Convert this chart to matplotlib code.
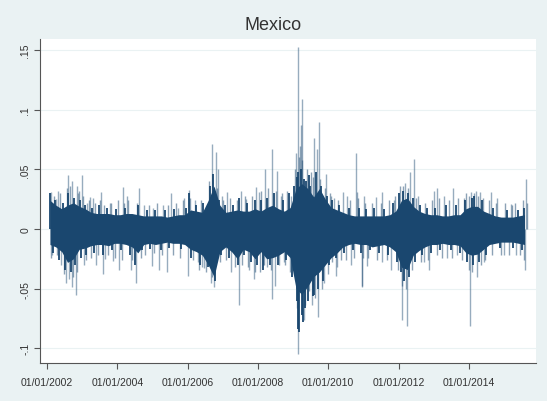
import matplotlib.pyplot as plt
import numpy as np

# dense band of daily returns, two-month periods from Jan 2002
core_hi = [.024, .020, .017, .020, .022, .019, .017, .014, .013, .013, .013, .012,
           .012, .013, .013, .012, .011, .011, .011, .011, .010, .011, .012, .012,
           .016, .015, .014, .024, .036, .020, .014, .015, .016, .015, .015, .017,
           .015, .018, .020, .017, .015, .018, .034, .038, .034, .027, .034, .025,
           .018, .016, .014, .012, .011, .011, .011, .011, .011, .011, .012, .015,
           .024, .026, .019, .015, .013, .012, .012, .011, .011, .012, .012, .017,
           .019, .019, .015, .013, .011, .010, .010, .010, .011, .012]
core_lo = [-.013, -.015, -.019, -.028, -.025, -.017, -.016, -.014, -.013, -.013, -.014, -.012,
           -.012, -.013, -.015, -.020, -.013, -.012, -.013, -.012, -.011, -.012, -.012, -.013,
           -.017, -.019, -.022, -.030, -.040, -.019, -.015, -.019, -.025, -.017, -.019, -.025,
           -.019, -.025, -.024, -.022, -.019, -.024, -.050, -.055, -.048, -.040, -.036, -.030,
           -.024, -.020, -.015, -.013, -.012, -.013, -.013, -.015, -.014, -.013, -.015, -.019,
           -.032, -.034, -.022, -.018, -.015, -.013, -.013, -.012, -.013, -.013, -.014, -.020,
           -.022, -.021, -.017, -.013, -.012, -.011, -.011, -.011, -.012, -.013]
period_mid = 2002 + (np.arange(len(core_hi)) + 0.5) / 6

# busiest days at the edge of the band
tip_years = [2002.08, 2002.18, 2002.22, 2002.35, 2002.45, 2002.52, 2002.60, 2002.68, 2002.76, 2002.80,
             2002.93, 2002.96, 2003.08, 2003.12, 2003.27, 2003.34, 2003.48, 2003.60, 2003.70, 2003.84,
             2003.95, 2004.10, 2004.22, 2004.35, 2004.50, 2004.58, 2004.70, 2004.85, 2004.93, 2005.08,
             2005.25, 2005.37, 2005.48, 2005.62, 2005.80, 2005.95, 2006.05, 2006.10, 2006.25, 2006.36,
             2006.44, 2006.58, 2006.64, 2006.72, 2006.78, 2006.90, 2006.95, 2007.05, 2007.18, 2007.30,
             2007.42, 2007.47, 2007.60, 2007.70, 2007.80, 2007.92, 2007.98, 2008.08, 2008.15, 2008.25,
             2008.35, 2008.45, 2008.58, 2008.70, 2008.80, 2008.88, 2008.97, 2009.02, 2009.10, 2009.13,
             2009.18, 2009.22, 2009.28, 2009.36, 2009.42, 2009.48, 2009.56, 2009.64, 2009.70, 2009.78,
             2009.85, 2009.96, 2010.02, 2010.12, 2010.22, 2010.32, 2010.45, 2010.58, 2010.70, 2010.88,
             2010.93, 2011.06, 2011.18, 2011.30, 2011.45, 2011.60, 2011.70, 2011.84, 2011.95, 2012.02,
             2012.06, 2012.12, 2012.16, 2012.26, 2012.30, 2012.40, 2012.48, 2012.60, 2012.68, 2012.80,
             2012.92, 2013.05, 2013.18, 2013.34, 2013.48, 2013.62, 2013.75, 2013.90, 2013.96, 2014.08,
             2014.12, 2014.16, 2014.28, 2014.36, 2014.50, 2014.70, 2014.88, 2015.08, 2015.25, 2015.40,
             2015.50, 2015.56, 2009.15, 2009.25, 2009.33, 2009.12, 2009.30, 2009.45, 2009.60]
tip_vals = [.030, -.020, .024, -.026, .022, -.034, .030, -.036, .026, -.030,
            .024, -.024, .020, -.022, .018, -.020, .020, -.022, .018, -.018,
            .017, -.018, .018, -.022, -.030, .020, -.018, .016, -.017, .016,
            -.018, .016, -.016, .017, -.017, .018, .030, -.024, .020, -.030,
            .022, -.032, .036, .046, -.044, .024, -.022, .020, -.024, .020,
            -.030, .026, -.022, .022, -.028, .024, -.030, .024, -.034, .026,
            -.030, .030, -.030, .024, -.026, .030, -.040, .036, -.060, .048,
            -.086, .050, -.078, .040, -.060, .036, -.056, .048, -.050, .036,
            -.044, .028, -.030, .024, -.024, .020, -.020, .018, -.018, .018,
            -.020, .017, -.018, .018, -.020, .017, -.022, .022, -.028, .030,
            -.036, .032, -.044, .030, -.040, .026, -.028, .020, -.022, .018,
            -.020, .018, -.018, .020, -.018, .020, -.020, .024, -.028, .026,
            -.030, .028, -.028, .024, -.022, .018, -.016, .016, -.016, .016,
            -.018, .018, -.084, -.072, -.066, .044, .042, .045, -.055]

# smaller moves around the band
hair_years = [2002.10, 2002.20, 2002.29, 2002.37, 2002.49, 2002.56, 2002.66, 2002.74, 2002.86, 2002.91,
              2003.02, 2003.10, 2003.18, 2003.25, 2003.36, 2003.45, 2003.51, 2003.63, 2003.73, 2003.82,
              2003.92, 2004.02, 2004.13, 2004.20, 2004.31, 2004.43, 2004.56, 2004.67, 2004.80, 2004.90,
              2005.05, 2005.14, 2005.28, 2005.45, 2005.58, 2005.67, 2005.77, 2005.86, 2006.08, 2006.15,
              2006.33, 2006.38, 2006.53, 2006.61, 2006.68, 2006.83, 2006.92, 2007.02, 2007.10, 2007.20,
              2007.35, 2007.40, 2007.55, 2007.62, 2007.72, 2007.84, 2007.93, 2008.05, 2008.10, 2008.18,
              2008.30, 2008.38, 2008.52, 2008.60, 2008.68, 2008.77, 2008.84, 2008.90, 2009.05, 2009.11,
              2009.17, 2009.25, 2009.33, 2009.40, 2009.46, 2009.50, 2009.58, 2009.63, 2009.77, 2009.82,
              2009.90, 2009.98, 2010.04, 2010.10, 2010.28, 2010.36, 2010.50, 2010.62, 2010.74, 2010.86,
              2010.99, 2011.04, 2011.14, 2011.24, 2011.40, 2011.50, 2011.66, 2011.74, 2011.90, 2011.99,
              2012.04, 2012.11, 2012.14, 2012.20, 2012.28, 2012.37, 2012.51, 2012.64, 2012.76, 2012.84,
              2012.96, 2013.08, 2013.14, 2013.25, 2013.44, 2013.52, 2013.70, 2013.80, 2013.93, 2013.99,
              2014.01, 2014.10, 2014.14, 2014.26, 2014.34, 2014.40, 2014.47, 2014.56, 2014.66, 2014.76,
              2014.92, 2015.04, 2015.13, 2015.22, 2015.30, 2015.45, 2015.53, 2015.58, 2015.64]
hair_vals = [-.024, .028, -.022, .030, -.038, .034, .036, -.040, -.036, .032,
             .028, -.026, .024, -.024, .022, -.022, .024, .020, -.022, .022,
             -.024, .024, -.026, .022, .024, -.026, .022, -.024, -.022, .020,
             -.020, .022, -.022, .020, -.022, .022, -.024, .024, .026, -.026,
             -.034, .024, -.036, .040, -.040, .034, -.028, .024, -.026, .026,
             -.032, .024, -.030, .028, -.032, .028, -.036, -.036, .032, -.030,
             .034, -.034, .032, -.030, .030, -.030, .032, -.036, .050, -.066,
             .060, .058, -.064, .050, -.052, .048, .044, -.058, .042, -.050,
             .034, -.038, .030, -.028, .024, -.026, -.026, .024, -.024, .026,
             -.024, .022, -.024, .022, -.026, .022, -.026, .024, .028, -.034,
             .036, -.048, .036, -.050, .034, -.034, .026, -.028, .022, -.026,
             .024, -.022, .026, -.024, .024, -.024, .026, -.026, .030, -.034,
             .028, -.036, .030, .028, -.030, .026, -.026, .024, -.022, .022,
             -.022, .022, -.022, .020, .022, -.022, .024, -.026, .022]

# single large days sticking out of the band
spike_years = [2002.11, 2002.14, 2002.26, 2002.31, 2002.40, 2002.54, 2002.59, 2002.63, 2002.70, 2002.71,
               2002.83, 2002.84, 2002.88, 2002.99, 2003.05, 2003.14, 2003.22, 2003.31, 2003.39, 2003.54,
               2003.58, 2003.65, 2003.79, 2003.88, 2004.05, 2004.16, 2004.28, 2004.39, 2004.53, 2004.62,
               2004.76, 2004.98, 2005.02, 2005.19, 2005.31, 2005.41, 2005.53, 2005.73, 2005.90, 2006.03,
               2006.01, 2006.21, 2006.30, 2006.40, 2006.47, 2006.66, 2006.70, 2006.75, 2006.80, 2006.85,
               2006.98, 2007.13, 2007.23, 2007.46, 2007.51, 2007.65, 2007.75, 2007.89, 2007.95, 2008.03,
               2008.13, 2008.20, 2008.27, 2008.41, 2008.41, 2008.49, 2008.53, 2008.65, 2008.74, 2008.93,
               2009.08, 2009.15, 2009.15, 2009.20, 2009.23, 2009.26, 2009.31, 2009.53, 2009.60, 2009.67,
               2009.72, 2009.74, 2009.88, 2009.93, 2010.07, 2010.17, 2010.21, 2010.26, 2010.43, 2010.54,
               2010.64, 2010.78, 2010.83, 2010.95, 2010.97, 2011.02, 2011.11, 2011.35, 2011.54, 2011.54,
               2011.78, 2011.87, 2012.09, 2012.18, 2012.23, 2012.33, 2012.44, 2012.54, 2012.73, 2012.87,
               2013.01, 2013.10, 2013.29, 2013.39, 2013.56, 2013.67, 2013.86, 2014.03, 2014.05, 2014.20,
               2014.24, 2014.32, 2014.43, 2014.62, 2014.81, 2015.00, 2015.19, 2015.33, 2015.60, 2015.62]
spike_vals = [.031, -.022, .025, .032, -.030, -.045, .045, -.042, .040, -.049,
              -.055, .036, .030, .045, -.030, .022, .027, .026, -.030, .031,
              -.038, -.025, .022, -.027, -.034, .035, .028, -.034, -.045, .034,
              .020, -.031, .018, -.034, .020, -.036, .030, .018, .026, .033,
              -.039, .024, -.028, -.032, -.033, -.045, .071, -.049, .065, .050,
              .028, .031, -.036, -.064, .032, .025, -.034, -.042, .035, .031,
              -.030, .050, -.032, .067, -.059, -.048, .049, .028, -.028, .028,
              .064, .153, -.105, .070, .087, .109, -.076, -.064, .076, .067,
              -.074, .090, -.045, .046, .028, .026, -.039, -.032, .031, .028,
              -.030, .064, .031, -.049, -.048, .028, -.031, .027, .031, -.028,
              -.034, .024, -.076, .039, -.081, .048, .059, .028, -.028, -.034,
              .032, .034, .028, -.024, .034, -.022, .026, -.081, .031, .032,
              -.040, .031, -.028, .031, .026, -.022, .021, -.022, -.034, .042]

navy = "#1a476f"

fig = plt.figure(figsize=(5.47, 4.02), dpi=100, facecolor="#eaf2f3")
ax = fig.add_axes([40/547, 1 - 364/402, 496/547, 324/402])
ax.set_facecolor("white")

ax.vlines(spike_years, 0, spike_vals, color=navy, alpha=0.45, lw=1.0)
ax.vlines(hair_years, 0, hair_vals, color=navy, alpha=0.5, lw=1.0)
ax.fill_between(period_mid, core_lo, core_hi, color=navy, lw=0)
ax.vlines(tip_years, 0, tip_vals, color=navy, lw=1.3)

ax.set_xlim(2001.80, 2015.91)
ax.set_ylim(-0.1124, 0.1594)

yt = [-.1, -.05, 0, .05, .1, .15]
ytl = ["-.1", "-.05", "0", ".05", ".1", ".15"]
ax.set_yticks(yt)
ax.set_yticklabels(ytl, rotation=90, va="center", fontsize=7.5, color="#333333",
                   family="Liberation Sans")
xt = list(range(2002, 2015, 2))
xtl = ["01/01/%d" % y for y in xt]
ax.set_xticks(xt)
ax.set_xticklabels(xtl, fontsize=7.5, color="#333333", family="Liberation Sans")
ax.tick_params(length=4, width=0.8, color="#555555", pad=3)
ax.tick_params(axis="x", pad=6)
ax.grid(axis="y", color="#eaf2f3", lw=0.8)
ax.set_axisbelow(True)

for s in ["top", "right"]:
    ax.spines[s].set_visible(False)
for s in ["left", "bottom"]:
    ax.spines[s].set_color("#555555")
    ax.spines[s].set_linewidth(0.8)

fig.text(0.5, 1 - 26/402, "Mexico", ha="center", va="center", fontsize=13,
         color="#333333", family="Liberation Sans")

fig.savefig("out.png", dpi=100, facecolor=fig.get_facecolor())
